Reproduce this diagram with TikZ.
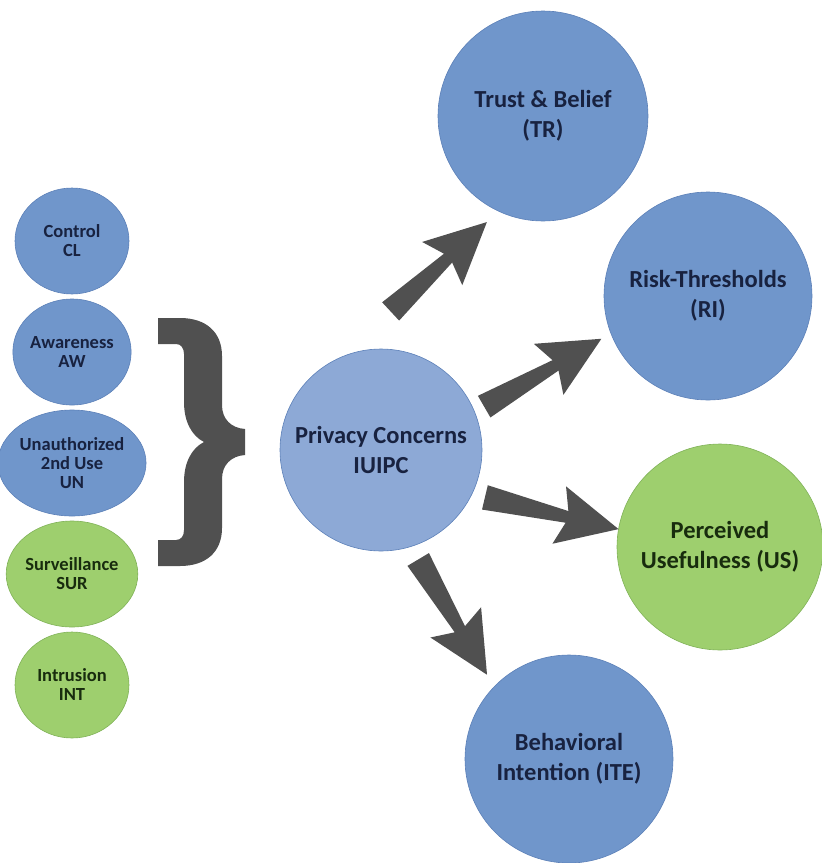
\documentclass[tikz,border=0pt]{standalone}
\usepackage{fontspec}
\setmainfont{Carlito}
\usepackage{tikz}
\usetikzlibrary{shapes.geometric, arrows.meta, positioning, calc}
\definecolor{conblue}{RGB}{112,150,203}
\definecolor{conblueline}{RGB}{92,128,184}
\definecolor{centerblue}{RGB}{141,169,214}
\definecolor{congreen}{RGB}{158,207,110}
\definecolor{congreenline}{RGB}{128,178,88}
\definecolor{arrowgray}{RGB}{80,80,80}
\definecolor{navytext}{RGB}{24,34,64}
\definecolor{greentext}{RGB}{24,44,14}
\tikzset{
  factor/.style={
    ellipse, draw=conblueline, line width=0.6pt, fill=conblue,
    align=center, inner sep=0pt, outer sep=0pt, text=navytext,
    minimum width=114pt, minimum height=106pt,
    font=\fontsize{18.5}{19}\selectfont\bfseries
  },
  greenfactor/.style={factor, fill=congreen, draw=congreenline, text=greentext},
  construct/.style={
    circle, draw=conblueline, line width=0.6pt, fill=conblue,
    align=center, inner sep=0pt, outer sep=0pt, text=navytext,
    minimum size=208pt, font=\fontsize{24.5}{30}\selectfont\bfseries
  },
  greenconstruct/.style={construct, fill=congreen, draw=congreenline, text=greentext},
  centerconstruct/.style={construct, fill=centerblue, minimum size=202pt},
  % tapered block arrow, #1 = gap at start, #2 = gap at end
  wedge/.style 2 args={fill=arrowgray, to path={
    ($(\tikztostart)!#1!(\tikztotarget)$) coordinate (wS)
    ($(\tikztotarget)!#2!(\tikztostart)$) coordinate (wE)
    ($(wE)!53pt!(wS)$) coordinate (wN)
    ($(wE)!61pt!(wS)$) coordinate (wB)
    ($(wS)!12.5pt!90:(wE)$) -- ($(wN)!6pt!90:(wE)$) -- ($(wB)!29.5pt!90:(wE)$)
    -- (wE) -- ($(wB)!29.5pt!-90:(wE)$) -- ($(wN)!6pt!-90:(wE)$)
    -- ($(wS)!12.5pt!-90:(wE)$) -- cycle}}
}

\begin{document}
\begin{tikzpicture}[x=1pt, y=-1pt, node distance=5pt]
\useasboundingbox (0,0) rectangle (822,863);

% dimensions of IUIPC
\node[factor] (cl) at (72,241) {Control\\CL};
\node[factor, below=of cl] (aw) {Awareness\\AW};
\node[factor, below=of aw] (un) {Unauthorized\\2nd Use\\UN};
\node[greenfactor, below=of un] (sur) {Surveillance\\SUR};
\node[greenfactor, below=of sur] (int) {Intrusion\\INT};

% brace
\fill[arrowgray] (158,318) -- (180,318) .. controls (206,318) and (222,332) .. (222,356)
  -- (222,405) .. controls (222,419) and (231,428) .. (245,429)
  -- (245,455) .. controls (231,456) and (222,465) .. (222,479)
  -- (222,528) .. controls (222,552) and (206,566) .. (180,566)
  -- (158,566) -- (158,540) -- (176,540) .. controls (181,540) and (184,536) .. (184,530)
  -- (184,482) .. controls (184,462) and (192,448) .. (204,442)
  .. controls (192,436) and (184,422) .. (184,402)
  -- (184,354) .. controls (184,348) and (181,344) .. (176,344) -- (158,344) -- cycle;

% constructs
\node[centerconstruct] (pc) at (381,450) {Privacy Concerns\\IUIPC};
\node[construct, minimum size=210pt] (tr) at (543,116) {Trust \& Belief\\(TR)};
\node[construct] (ri) at (708,296) {Risk-Thresholds\\(RI)};
\node[greenconstruct, minimum size=206pt] (us) at (720,547) {Perceived\\Usefulness (US)};
\node[construct] (ite) at (569,759) {Behavioral\\Intention (ITE)};

\path[wedge={67pt}{16pt}] (pc.113.5) to (tr.245);
\path[wedge={11pt}{11pt}] (pc.22.6) to (ri.201.8);
\path[wedge={13.5pt}{0pt}] (pc.334) to (us.170.6);
\path[wedge={15pt}{14pt}] (pc.287.9) to (ite.136.2);

\end{tikzpicture}
\end{document}
